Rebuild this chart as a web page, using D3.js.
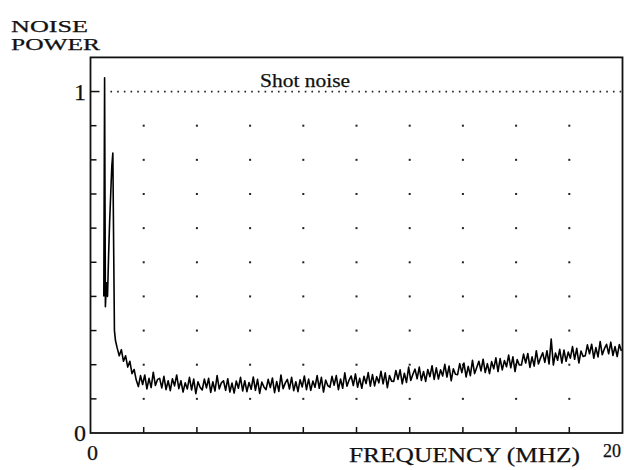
<!DOCTYPE html>
<html>
<head>
<meta charset="utf-8">
<script src="https://cdn.jsdelivr.net/npm/d3@7"></script>
<style>
  body { margin: 0; background: #fff; }
  svg { display: block; }
  text { font-family: "Liberation Serif", "Times New Roman", serif; fill: #111; stroke: #111; stroke-width: 0.25; }
</style>
</head>
<body>
<div id="graph"></div>
<script>
// Peak region near DC, read as [freq, power] pairs
const peakFreq  = [0.50, 0.53, 0.56, 0.60, 0.64, 0.68, 0.72, 0.76, 0.80, 0.84, 0.87, 0.90, 0.94]
const peakPower = [0.40, 1.04, 0.37, 0.44, 0.40, 0.52, 0.62, 0.70, 0.78, 0.82, 0.55, 0.30, 0.27]

// Noise floor, sweep from 1.0 MHz in 0.08 MHz steps
const sweepStart = 1.0
const sweepStep = 0.08
const floorPower = [
  0.250, 0.226, 0.244, 0.210, 0.226, 0.193, 0.210, 0.174, 0.186, 0.155,
  0.136, 0.168, 0.142, 0.170, 0.129, 0.160, 0.133, 0.178, 0.139, 0.157,
  0.160, 0.132, 0.166, 0.127, 0.153, 0.124, 0.159, 0.138, 0.170, 0.130,
  0.153, 0.120, 0.147, 0.129, 0.163, 0.126, 0.158, 0.115, 0.150, 0.134,
  0.126, 0.158, 0.132, 0.160, 0.119, 0.150, 0.123, 0.168, 0.129, 0.147,
  0.153, 0.125, 0.159, 0.120, 0.146, 0.117, 0.152, 0.131, 0.163, 0.123,
  0.153, 0.121, 0.148, 0.128, 0.164, 0.125, 0.157, 0.116, 0.149, 0.135,
  0.127, 0.157, 0.133, 0.161, 0.118, 0.151, 0.122, 0.170, 0.130, 0.146,
  0.157, 0.129, 0.163, 0.124, 0.150, 0.121, 0.156, 0.135, 0.167, 0.127,
  0.158, 0.125, 0.152, 0.134, 0.168, 0.131, 0.163, 0.120, 0.155, 0.139,
  0.134, 0.166, 0.140, 0.168, 0.127, 0.158, 0.131, 0.176, 0.137, 0.155,
  0.167, 0.139, 0.173, 0.134, 0.160, 0.131, 0.166, 0.145, 0.177, 0.137,
  0.171, 0.138, 0.165, 0.147, 0.181, 0.144, 0.176, 0.133, 0.168, 0.152,
  0.151, 0.183, 0.157, 0.185, 0.144, 0.175, 0.148, 0.193, 0.154, 0.172,
  0.187, 0.159, 0.193, 0.154, 0.180, 0.151, 0.186, 0.165, 0.197, 0.157,
  0.191, 0.158, 0.185, 0.167, 0.201, 0.164, 0.196, 0.153, 0.188, 0.172,
  0.171, 0.203, 0.177, 0.205, 0.164, 0.195, 0.168, 0.213, 0.174, 0.192,
  0.210, 0.182, 0.216, 0.177, 0.203, 0.174, 0.209, 0.188, 0.220, 0.180,
  0.218, 0.185, 0.212, 0.194, 0.228, 0.191, 0.223, 0.180, 0.215, 0.199,
  0.199, 0.231, 0.205, 0.233, 0.192, 0.223, 0.196, 0.241, 0.202, 0.220,
  0.235, 0.207, 0.241, 0.202, 0.275, 0.199, 0.234, 0.213, 0.245, 0.205,
  0.243, 0.210, 0.237, 0.219, 0.253, 0.216, 0.248, 0.205, 0.240, 0.224,
  0.226, 0.258, 0.232, 0.260, 0.219, 0.250, 0.223, 0.268, 0.229, 0.247,
  0.260, 0.232, 0.266, 0.227, 0.253, 0.224, 0.259, 0.240
]

const shotNoise = 1
const xTicks = [2, 4, 6, 8, 10, 12, 14, 16, 18]
const yTicks = [0.1, 0.2, 0.3, 0.4, 0.5, 0.6, 0.7, 0.8, 0.9]
const yLabels = [{v: 0, t: "0"}, {v: 1, t: "1"}]

const width = 624, height = 470

const svg = d3.select('#graph').append('svg').attr('width', width).attr('height', height)

const xScale = d3.scaleLinear().domain([0, 20]).range([90.5, 622.5])
const yScale = d3.scaleLinear().domain([0, 1.1]).range([433, 57.4])

// join peak + floor into one trace
const trace = peakFreq.map((f, i) => [f, peakPower[i]])
floorPower.forEach((p, i) => trace.push([sweepStart + i * sweepStep, p]))

// dotted grid
const grid = svg.append('g')
xTicks.forEach(fx => {
  yTicks.forEach(py => {
    grid.append('rect')
      .attr('x', xScale(fx) - 1).attr('y', yScale(py) - 1)
      .attr('width', 2).attr('height', 2).attr('fill', '#222')
  })
})

// frame
svg.append('rect')
  .attr('x', xScale(0)).attr('y', yScale(1.1))
  .attr('width', xScale(20) - xScale(0)).attr('height', yScale(0) - yScale(1.1))
  .attr('fill', 'none').attr('stroke', '#111').attr('stroke-width', 1.8)

// inward ticks
const ticks = svg.append('g').attr('stroke', '#111').attr('stroke-width', 1.5)
yTicks.forEach(v => {
  ticks.append('line').attr('x1', xScale(0)).attr('x2', xScale(0) + 6)
    .attr('y1', yScale(v)).attr('y2', yScale(v))
})
ticks.append('line').attr('x1', xScale(0)).attr('x2', xScale(0) + 9)
  .attr('y1', yScale(1)).attr('y2', yScale(1))
xTicks.forEach(f => {
  ticks.append('line').attr('x1', xScale(f)).attr('x2', xScale(f))
    .attr('y1', yScale(0)).attr('y2', yScale(0) - 6)
})

// shot noise level
svg.append('line')
  .attr('x1', xScale(0.75)).attr('x2', xScale(20))
  .attr('y1', yScale(shotNoise)).attr('y2', yScale(shotNoise))
  .attr('stroke', '#222').attr('stroke-width', 1.8)
  .attr('stroke-dasharray', '1.6 5.1')

svg.append('text').attr('x', 260).attr('y', 87)
  .attr('font-size', 19).attr('textLength', 90).attr('lengthAdjust', 'spacingAndGlyphs')
  .text('Shot noise')

// the measured trace
const line = d3.line().x(d => xScale(d[0])).y(d => yScale(d[1]))
svg.append('path').datum(trace)
  .attr('d', line)
  .attr('fill', 'none').attr('stroke', '#000').attr('stroke-width', 1.6)
  .attr('stroke-linejoin', 'round')

// y axis title, two stacked lines
svg.append('text').attr('x', 11).attr('y', 32)
  .attr('font-size', 16).attr('textLength', 77).attr('lengthAdjust', 'spacingAndGlyphs')
  .text('NOISE')
svg.append('text').attr('x', 11).attr('y', 50)
  .attr('font-size', 16).attr('textLength', 89).attr('lengthAdjust', 'spacingAndGlyphs')
  .text('POWER')

yLabels.forEach(d => {
  svg.append('text').attr('x', 86).attr('y', yScale(d.v) + 8)
    .attr('text-anchor', 'end').attr('font-size', 24)
    .text(d.t)
})

svg.append('text').attr('x', xScale(0) + 2).attr('y', 460)
  .attr('text-anchor', 'middle').attr('font-size', 22)
  .text('0')
svg.append('text').attr('x', 349).attr('y', 462)
  .attr('font-size', 22).attr('textLength', 231).attr('lengthAdjust', 'spacingAndGlyphs')
  .text('FREQUENCY (MHZ)')
svg.append('text').attr('x', 612).attr('y', 457)
  .attr('text-anchor', 'middle').attr('font-size', 18)
  .text('20')
</script>
</body>
</html>
